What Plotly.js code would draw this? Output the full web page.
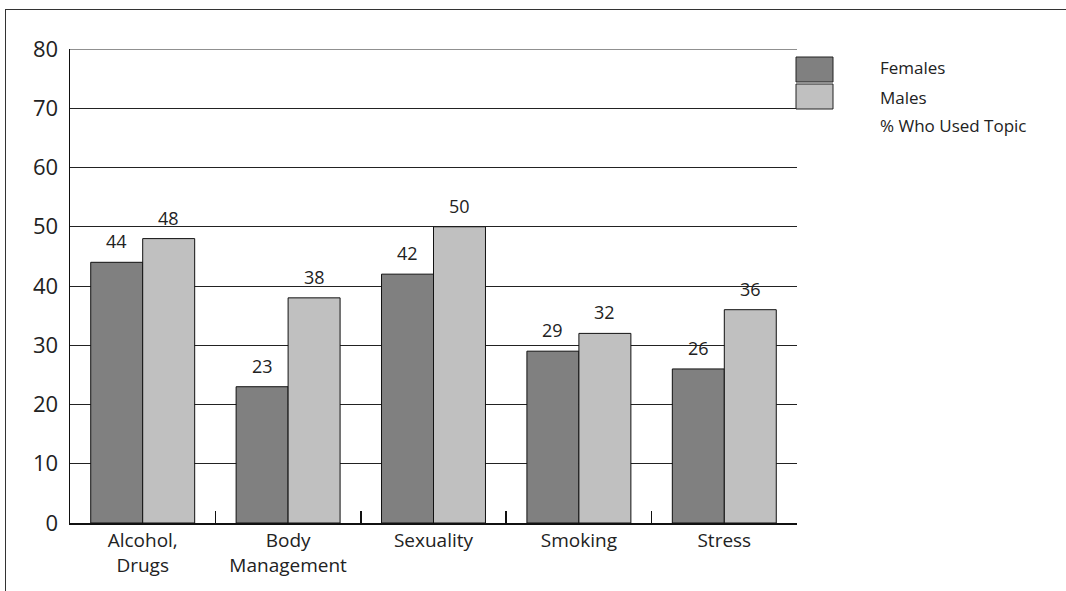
<!DOCTYPE html>
<html>
<head>
<meta charset="utf-8">
<script src="https://cdn.plot.ly/plotly-3.0.1.min.js"></script>
<style>
html,body{margin:0;padding:0;background:#fff;}
#wrap{position:relative;width:1066px;height:591px;}
#chart{width:1066px;height:591px;}
#frame{position:absolute;left:5px;top:9px;width:1080px;height:600px;border-left:1.5px solid #333;border-top:1.5px solid #333;pointer-events:none;}
</style>
</head>
<body>
<div id="wrap"><div id="chart"></div><div id="frame"></div></div>
<script>
const categories = ["Alcohol,<br>Drugs", "Body<br>Management", "Sexuality", "Smoking", "Stress"];
const females = [44, 23, 42, 29, 26];
const males = [48, 38, 50, 32, 36];
const yTicks = [0, 10, 20, 30, 40, 50, 60, 70, 80];
const legendLabels = ["Females", "Males", "% Who Used Topic"];
const colors = ["#808080", "#c0c0c0"];

const font = "Open Sans, Lato, sans-serif";

function barTrace(name, vals, color) {
  return {
    type: "bar", name: name, x: categories, y: vals,
    marker: {color: color, line: {color: "#111", width: 1}},
    hoverinfo: "x+y", showlegend: false
  };
}

const data = [barTrace(legendLabels[0], females, colors[0]), barTrace(legendLabels[1], males, colors[1])];

const shapes = [];
const annotations = [];

// value labels above bars
const series = [females, males];
const offsets = [-26, 26];
series.forEach((vals, s) => {
  vals.forEach((v, i) => {
    annotations.push({x: categories[i], y: v, xref: "x", yref: "y", xshift: offsets[s], yshift: 7,
      yanchor: "bottom", xanchor: "center", text: String(v), showarrow: false,
      font: {family: font, size: 18, color: "#222"}});
  });
});

// top frame line at 80
shapes.push({type: "line", xref: "paper", yref: "y", x0: 0, x1: 1, y0: 80, y1: 80, line: {color: "#222", width: 1}});

// custom legend (swatches + labels)
const legX0 = 796, legX1 = 833;
const legTop = [57, 84];
for (let i = 0; i < 2; i++) {
  shapes.push({type: "rect", xref: "paper", yref: "paper",
    x0: (legX0 - 70) / 727, x1: (legX1 - 70) / 727,
    y0: 1 - (legTop[i] + 25 - 49) / 474, y1: 1 - (legTop[i] - 49) / 474,
    fillcolor: colors[i], line: {color: "#222", width: 1}});
}
const legTextY = [68, 97, 125];
for (let i = 0; i < 3; i++) {
  annotations.push({xref: "paper", yref: "paper", x: (878 - 70) / 727, y: 1 - (legTextY[i] - 49) / 474,
    xanchor: "left", yanchor: "middle", text: legendLabels[i], showarrow: false,
    font: {family: font, size: 17, color: "#222"}});
}

const layout = {
  width: 1066, height: 591,
  margin: {l: 70, r: 269, t: 49, b: 68, pad: 0},
  paper_bgcolor: "#fff", plot_bgcolor: "#fff",
  barmode: "group", bargap: 0.285, bargroupgap: 0,
  showlegend: false,
  font: {family: font, color: "#222"},
  xaxis: {
    type: "category", tickson: "boundaries", ticks: "inside", ticklen: 12, tickcolor: "#111", tickwidth: 1.5,
    showline: true, linecolor: "#111", linewidth: 1.5, showgrid: false,
    tickfont: {family: font, size: 19, color: "#222"}
  },
  yaxis: {
    range: [0, 80], tickvals: yTicks, ticktext: yTicks.map(String), ticks: "",
    showline: true, linecolor: "#111", linewidth: 1.5,
    showgrid: true, gridcolor: "#222", gridwidth: 1, zeroline: false,
    tickfont: {family: font, size: 22, color: "#222"}, ticklabelstandoff: 6
  },
  shapes: shapes, annotations: annotations
};

Plotly.newPlot("chart", data, layout, {displayModeBar: false, staticPlot: true});
</script>
</body>
</html>
